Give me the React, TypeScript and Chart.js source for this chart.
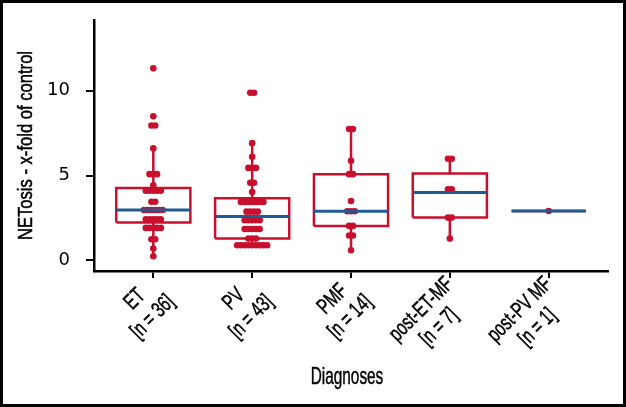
import React, { useEffect, useRef } from "react";
import { Chart, registerables } from "chart.js";

Chart.register(...registerables);

// ---- Data ----
const categories: string[][] = [
  ["ET", "[n = 36]"],
  ["PV", "[n = 43]"],
  ["PMF", "[n = 14]"],
  ["post-ET-MF", "[n = 7]"],
  ["post-PV MF", "[n = 1]"],
];

// box statistics per category
const q1Values = [2.23, 1.28, 2.03, 2.52, 2.91];
const medianValues = [2.97, 2.58, 2.89, 4.0, 2.91];
const q3Values = [4.27, 3.66, 5.08, 5.12, 2.91];
const whiskerLow = [0.24, 0.89, 0.59, 1.28, 2.91];
const whiskerHigh = [6.6, 6.91, 7.74, 5.99, 2.91];

// individual observations
const etPoints = [11.32, 8.49, 7.95, 7.95, 6.6, 5.08, 5.08, 5.08, 4.43, 4.1, 4.1, 4.1, 4.1, 4.1, 3.45, 3.45,
  2.97, 2.97, 2.97, 2.97, 2.97, 2.97, 2.42, 2.42, 2.42, 2.42, 2.42, 1.91, 1.91, 1.91, 1.91, 1.91, 1.24, 1.24, 0.69, 0.24];
const pvPoints = [9.88, 9.88, 6.91, 6.1, 5.45, 5.45, 5.45, 4.57, 4.57, 4.03, 3.44, 3.44, 3.44, 3.44, 3.44, 3.44, 3.44,
  2.87, 2.87, 2.87, 2.87, 2.36, 2.36, 2.36, 2.36, 2.36, 1.85, 1.85, 1.85, 1.85, 1.85, 1.28, 1.28, 1.28,
  0.89, 0.89, 0.89, 0.89, 0.89, 0.89, 0.89, 0.89, 0.89];
const pmfPoints = [7.74, 7.74, 5.87, 5.08, 5.08, 3.5, 2.89, 2.89, 2.89, 2.03, 2.03, 1.46, 1.46, 0.59];
const postEtPoints = [5.99, 5.99, 4.19, 4.19, 2.52, 2.52, 1.28];
const postPvPoints = [2.91];
const pointGroups = [etPoints, pvPoints, pmfPoints, postEtPoints, postPvPoints];

const yTicks = [0, 5, 10];
const yTitle = "NETosis - x-fold of control";
const xTitle = "Diagnoses";

// ---- Styles ----
const RED = "#c8102e";
const BLUE = "#1f5c93";
const SANS = "'Liberation Sans', Arial, sans-serif";
const BOX_HALF = 0.375;
const DOT_STEP = 0.038;

function dotplotData(values: number[], center: number) {
  const counts = new Map<number, number>();
  values.forEach((v) => counts.set(v, (counts.get(v) || 0) + 1));
  const out: { x: number; y: number }[] = [];
  counts.forEach((n, v) => {
    for (let j = 0; j < n; j++) out.push({ x: center + (j - (n - 1) / 2) * DOT_STEP, y: v });
  });
  return out;
}

function heavyText(ctx: CanvasRenderingContext2D, s: string) {
  ctx.fillText(s, 0, 0);
  ctx.strokeText(s, 0, 0);
}

// condensed text (horizontal squeeze of a sans face)
const textPlugin = {
  id: "condensedText",
  afterDraw(chart: any) {
    const xs = chart.scales.x;
    const ctx = chart.ctx;
    const area = chart.chartArea;
    ctx.save();
    ctx.fillStyle = "#000";
    ctx.strokeStyle = "#000";
    ctx.lineWidth = 0.5;
    ctx.textAlign = "center";
    ctx.textBaseline = "middle";

    // category labels, rotated 45°, lines centred, block's right edge at the tick
    ctx.font = `22px ${SANS}`;
    const k = 0.7;
    const lh = 25;
    categories.forEach((lines, i) => {
      const px = xs.getPixelForValue(i);
      const py = xs.top + 10;
      const w = Math.max(...lines.map((l) => ctx.measureText(l).width)) * k;
      ctx.save();
      ctx.translate(px, py);
      ctx.rotate(-Math.PI / 4);
      lines.forEach((l, j) => {
        ctx.save();
        ctx.translate(-w / 2, lh * j);
        ctx.scale(k, 1);
        heavyText(ctx, l);
        ctx.restore();
      });
      ctx.restore();
    });

    // x title
    ctx.save();
    ctx.font = `24px ${SANS}`;
    ctx.translate((area.left + area.right) / 2 - 4, 374);
    ctx.scale(0.64, 1);
    heavyText(ctx, xTitle);
    ctx.restore();

    // y title
    ctx.save();
    ctx.font = `20px ${SANS}`;
    ctx.translate(23, (area.top + area.bottom) / 2);
    ctx.rotate(-Math.PI / 2);
    ctx.scale(0.83, 1);
    heavyText(ctx, yTitle);
    ctx.restore();

    ctx.restore();
  },
};

export default function App() {
  const ref = useRef<HTMLCanvasElement>(null);
  useEffect(() => {
    const datasets: any[] = [];
    // medians (first = drawn on top)
    medianValues.forEach((m, i) => {
      datasets.push({
        type: "scatter", showLine: true, pointRadius: 0, borderColor: BLUE, borderWidth: 3,
        data: [{ x: i - BOX_HALF, y: m }, { x: i + BOX_HALF, y: m }],
      });
    });
    // boxes + whiskers
    q1Values.forEach((q1, i) => {
      const q3 = q3Values[i];
      datasets.push({
        type: "scatter", showLine: true, pointRadius: 0, borderColor: RED, borderWidth: 2.5,
        data: [
          { x: i - BOX_HALF, y: q1 }, { x: i + BOX_HALF, y: q1 }, { x: i + BOX_HALF, y: q3 },
          { x: i - BOX_HALF, y: q3 }, { x: i - BOX_HALF, y: q1 },
        ],
      });
      datasets.push({
        type: "scatter", showLine: true, pointRadius: 0, borderColor: RED, borderWidth: 2.5,
        data: [{ x: i, y: q3 }, { x: i, y: whiskerHigh[i] }],
      });
      datasets.push({
        type: "scatter", showLine: true, pointRadius: 0, borderColor: RED, borderWidth: 2.5,
        data: [{ x: i, y: q1 }, { x: i, y: whiskerLow[i] }],
      });
    });
    // dots
    pointGroups.forEach((vals, i) => {
      datasets.push({
        type: "scatter", showLine: false, pointRadius: 3.3, pointBorderWidth: 0,
        backgroundColor: RED, borderColor: RED, data: dotplotData(vals, i),
      });
    });

    const chart = new Chart(ref.current!, {
      type: "scatter",
      data: { datasets },
      plugins: [textPlugin],
      options: {
        animation: false,
        responsive: false,
        devicePixelRatio: 1,
        layout: { padding: { top: 17, right: 15, left: 0, bottom: 0 } },
        plugins: { legend: { display: false }, tooltip: { enabled: false } },
        scales: {
          x: {
            type: "linear",
            min: -0.6,
            max: 4.6,
            afterBuildTicks: (s: any) => { s.ticks = categories.map((_, i) => ({ value: i })); },
            afterFit: (s: any) => { s.height = 133; s.paddingLeft = 0; s.paddingRight = 0; },
            ticks: { display: false },
            grid: { drawOnChartArea: false, drawTicks: true, tickLength: 7, color: "#000", lineWidth: 2 },
            border: { display: true, color: "#000", width: 2.5 },
          },
          y: {
            type: "linear",
            min: -0.63,
            max: 14.17,
            afterBuildTicks: (s: any) => { s.ticks = yTicks.map((v) => ({ value: v })); },
            afterFit: (s: any) => { s.width = 91; s.paddingTop = 0; s.paddingBottom = 0; },
            ticks: { color: "#000", font: { family: "'DejaVu Sans', sans-serif", size: 18 }, padding: 16 },
            grid: { drawOnChartArea: false, drawTicks: true, tickLength: 8, color: "#000", lineWidth: 2 },
            border: { display: true, color: "#000", width: 2.5 },
          },
        },
      },
    });
    return () => chart.destroy();
  }, []);

  return (
    <div style={{ position: "absolute", left: 0, top: 0, width: 626, height: 407, boxSizing: "border-box", border: "3px solid #000", background: "#fff" }}>
      <canvas ref={ref} width={620} height={401} style={{ display: "block" }} />
    </div>
  );
}
